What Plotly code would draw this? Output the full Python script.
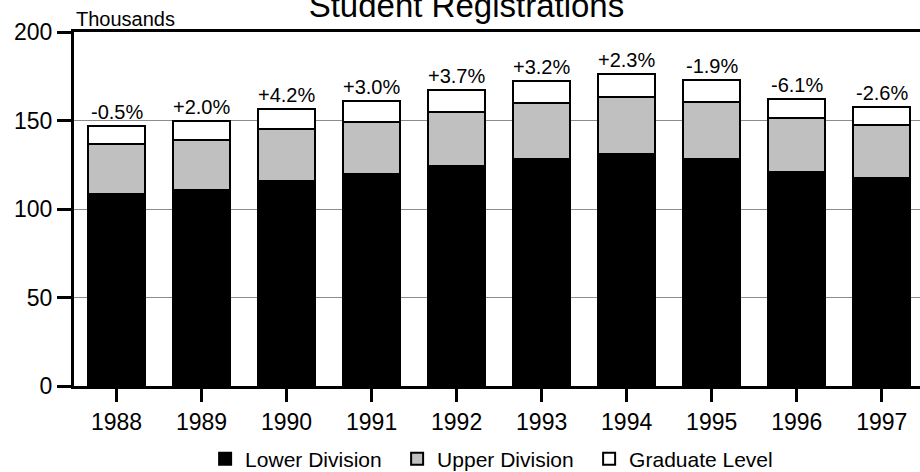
import plotly.graph_objects as go

years = ["1988", "1989", "1990", "1991", "1992", "1993", "1994", "1995", "1996", "1997"]
lower_division = [108.5, 110.7, 116.0, 119.8, 124.3, 128.2, 131.1, 128.2, 120.7, 117.5]
upper_division = [28.2, 28.5, 29.2, 29.5, 30.7, 31.9, 32.2, 32.1, 30.5, 29.8]
graduate_level = [10.3, 10.7, 11.3, 11.9, 12.2, 12.2, 13.1, 12.6, 11.1, 10.5]
pct_labels = ["-0.5%", "+2.0%", "+4.2%", "+3.0%", "+3.7%", "+3.2%", "+2.3%", "-1.9%", "-6.1%", "-2.6%"]
y_ticks = [0, 50, 100, 150, 200]

totals = [a + b + c for a, b, c in zip(lower_division, upper_division, graduate_level)]

FONT = "Liberation Sans, Arial, sans-serif"

fig = go.Figure()
fig.add_trace(go.Bar(x=years, y=lower_division, name="Lower Division",
                     marker=dict(color="#000000", line=dict(color="#000000", width=2)),
                     width=0.67))
fig.add_trace(go.Bar(x=years, y=upper_division, name="Upper Division",
                     marker=dict(color="#c0c0c0", line=dict(color="#000000", width=2)),
                     width=0.67))
fig.add_trace(go.Bar(x=years, y=graduate_level, name="Graduate Level",
                     marker=dict(color="#ffffff", line=dict(color="#000000", width=2)),
                     width=0.67))

annotations = [dict(text="Thousands", xref="paper", yref="paper", x=0.0, y=1.0,
                    xanchor="left", yanchor="bottom", showarrow=False,
                    font=dict(size=20, family=FONT), yshift=0)]
for i, (tot, lab) in enumerate(zip(totals, pct_labels)):
    annotations.append(dict(text=lab, x=i, y=tot, xref="x", yref="y",
                            xanchor="center", yanchor="bottom", showarrow=False,
                            yshift=1, font=dict(size=20, family=FONT, color="#000000")))

fig.update_layout(
    width=920, height=472,
    margin=dict(l=74, r=0, t=32, b=86, autoexpand=False),
    barmode="stack",
    plot_bgcolor="#ffffff", paper_bgcolor="#ffffff",
    font=dict(family=FONT, color="#000000"),
    title=dict(text="Student Registrations", x=0.507, xanchor="center",
               y=1 - 17 / 472, yanchor="bottom", yref="container",
               font=dict(size=33, family=FONT, color="#000000"), pad=dict(b=0, t=0)),
    showlegend=True,
    legend=dict(orientation="h", xref="container", yref="container",
                x=0.536, xanchor="center", y=13 / 472, yanchor="middle",
                font=dict(size=21, family=FONT), traceorder="normal",
                entrywidth=147, bgcolor="rgba(0,0,0,0)"),
    xaxis=dict(type="category", range=[-0.5, 9.45], showline=True, linecolor="#000000",
               linewidth=3, mirror=True, ticks="outside", ticklen=13, tickwidth=3,
               tickcolor="#000000", tickfont=dict(size=23, family=FONT), showgrid=False,
               zeroline=False),
    yaxis=dict(range=[0, 200], tickvals=y_ticks, showline=True, linecolor="#000000",
               linewidth=3, ticks="outside", ticklen=14, tickwidth=3, tickcolor="#000000",
               tickfont=dict(size=23, family=FONT), showgrid=True, gridcolor="#8c8c8c",
               gridwidth=1, zeroline=False),
    annotations=annotations,
)

fig.write_html("out.html", config={"displayModeBar": False},
               post_script="document.body.style.margin='0';document.body.style.overflow='hidden';")
